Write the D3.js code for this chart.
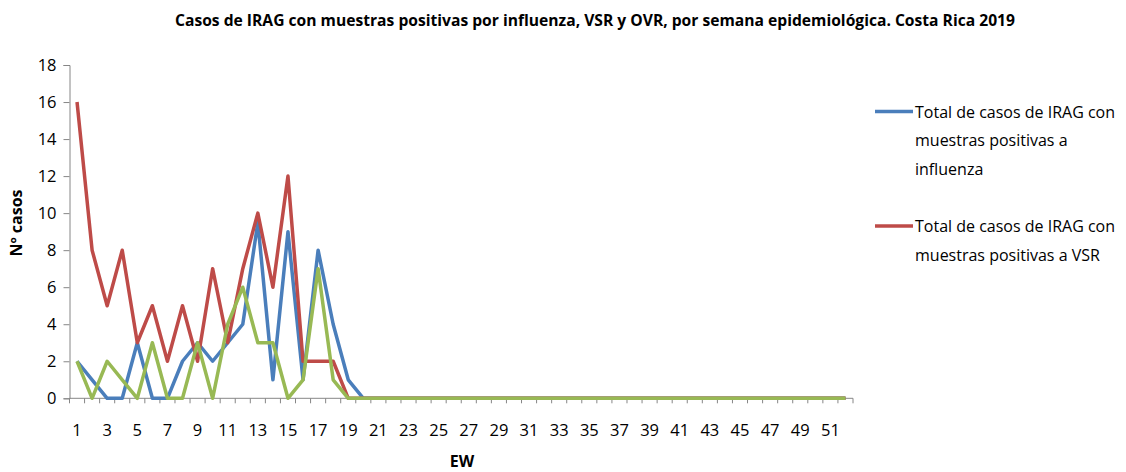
<!DOCTYPE html>
<html><head><meta charset="utf-8">
<script src="https://cdn.jsdelivr.net/npm/d3@7/dist/d3.min.js"></script>
<style>
body{margin:0;background:#fff;}
svg{display:block;}
text{font-family:"Open Sans","Liberation Sans",sans-serif;fill:#000;}
</style></head><body>
<svg id="c" width="1126" height="472"></svg>
<script>
(function(){
const weeks = d3.range(1, 53);
const influenza = [2,1,0,0,3,0,0,2,3,2,3,4,9.5,1,9,1,8,4,1,0, 0,0,0,0,0,0,0,0,0,0,0,0,0,0,0,0,0,0,0,0,0,0,0,0,0,0,0,0,0,0,0,0];
const vsr       = [16,8,5,8,3,5,2,5,2,7,3,7,10,6,12,2,2,2,0,0, 0,0,0,0,0,0,0,0,0,0,0,0,0,0,0,0,0,0,0,0,0,0,0,0,0,0,0,0,0,0,0,0];
const ovr       = [2,0,2,1,0,3,0,0,3,0,4,6,3,3,0,1,7,1,0,0, 0,0,0,0,0,0,0,0,0,0,0,0,0,0,0,0,0,0,0,0,0,0,0,0,0,0,0,0,0,0,0,0];
const yTicks = [0,2,4,6,8,10,12,14,16,18];
const xTickLabels = weeks.filter(w => w % 2 === 1);
const seriesNames = ["Total de casos de IRAG con muestras positivas a influenza","Total de casos de IRAG con muestras positivas a VSR","OVR"];
const colors = ["#4A7EBB","#BE4B48","#98B954"];
const title = "Casos de IRAG con muestras positivas por influenza, VSR y OVR, por semana epidemiológica. Costa Rica 2019";

const svg = d3.select("#c");
const mLeft = 69.5, mRight = 853, mTop = 65, mBottom = 398.3;
const x = d3.scaleBand().domain(weeks).range([mLeft, mRight]);
const y = d3.scaleLinear().domain([0, 18]).range([mBottom, mTop]);
const axisColor = "#868686";

const ya = svg.append("g").attr("transform", `translate(${mLeft},0)`)
  .call(d3.axisLeft(y).tickValues(yTicks).tickSize(6).tickPadding(7).tickFormat(d3.format("d")));
ya.select(".domain").attr("stroke", axisColor);
ya.selectAll(".tick line").attr("stroke", axisColor);
ya.selectAll(".tick text").style("font-size","16.5px").attr("fill","#000");

const xg = svg.append("g");
xg.append("line").attr("x1", mLeft).attr("x2", mRight).attr("y1", mBottom).attr("y2", mBottom).attr("stroke", axisColor);
const bounds = weeks.map(w => x(w)).concat([mRight]);
xg.selectAll("line.t").data(bounds).join("line").attr("class","t")
  .attr("x1", d => d).attr("x2", d => d).attr("y1", mBottom).attr("y2", mBottom + 5).attr("stroke", axisColor);
xg.selectAll("text").data(xTickLabels).join("text")
  .attr("x", d => x(d) + x.bandwidth()/2).attr("y", 436)
  .attr("text-anchor","middle").style("font-size","16.5px").text(d => d);

const data = [influenza, vsr, ovr];
const line = d3.line().x((d,i) => x(weeks[i]) + x.bandwidth()/2).y(d => y(d));
svg.selectAll("path.s").data(data).join("path").attr("class","s")
  .attr("d", d => line(d)).attr("fill","none")
  .attr("stroke", (d,i) => colors[i]).attr("stroke-width", 3.5).attr("stroke-linejoin","round");

svg.append("text").attr("x", 595).attr("y", 26).attr("text-anchor","middle")
  .attr("textLength", 840).attr("lengthAdjust","spacingAndGlyphs")
  .style("font-size","16px").style("font-weight","bold").text(title);

svg.append("text").attr("x", 462).attr("y", 467).attr("text-anchor","middle")
  .style("font-size","16px").style("font-weight","bold").text("EW");
svg.append("text").attr("transform","translate(22,223) rotate(-90)").attr("text-anchor","middle")
  .style("font-size","16px").style("font-weight","bold").text("Nº casos");

const legend = [
  {lines:["Total de casos de IRAG con","muestras positivas a","influenza"], y:111.5, c:colors[0]},
  {lines:["Total de casos de IRAG con","muestras positivas a VSR"], y:226, c:colors[1]}
];
legend.forEach(l => {
  svg.append("line").attr("x1", 875).attr("x2", 913).attr("y1", l.y).attr("y2", l.y)
    .attr("stroke", l.c).attr("stroke-width", 3.5);
  l.lines.forEach((t, i) => {
    svg.append("text").attr("x", 915).attr("y", l.y + 6 + i*28.5).style("font-size","16px").text(t);
  });
});
})();
</script></body></html>
